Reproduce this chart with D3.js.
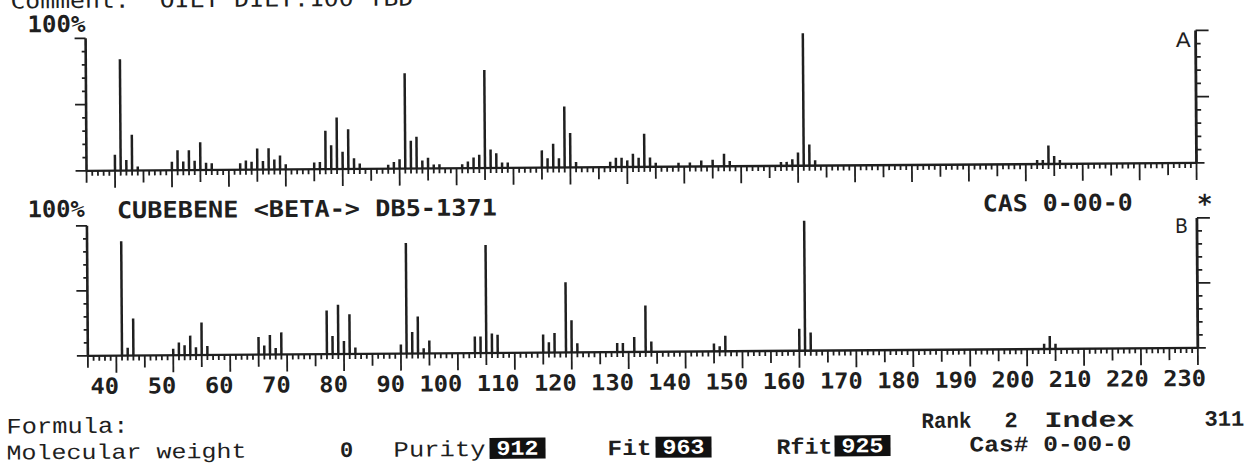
<!DOCTYPE html>
<html><head><meta charset="utf-8">
<script src="https://cdn.jsdelivr.net/npm/d3@7/dist/d3.min.js"></script>
<style>html,body{margin:0;padding:0;background:#fff}svg{display:block}</style>
</head><body>
<svg id="c" width="1255" height="466"></svg>
<script>
// ---- data (m/z and relative intensity %) ----
const mzA  = [40,41,42,43,44,50,51,52,53,54,55,56,57,62,63,64,65,66,67,68,69,70,75,76,77,78,79,80,81,82,83,88,89,90,91,92,93,94,95,96,97,101,102,103,104,105,106,107,108,109,115,116,117,118,119,120,121,127,128,129,130,131,132,133,134,135,139,141,143,145,147,148,157,158,159,160,161,162,163,202,203,204,205,206];
const intA = [12,84,8,27,3,6.5,15,6.5,15,7,21,5.5,5,5,7,6,16,6.5,16,7.5,10.5,4,5,5.5,29,18,39,13,30,8,4,3,5,7,72,21,24,6,8,3,3,3,5,8,10,74,14,11,4,4,13,7,18,7,46,26,4,4,7,7,5,10,7,25,7,3,3,3,4.5,5,9.5,4,3,3,5,10,100,16,4,3,3,14,6,3];
const mzB  = [41,42,43,50,51,52,53,54,55,56,65,66,67,68,69,77,78,79,80,81,82,90,91,92,93,94,95,103,104,105,106,107,115,116,117,119,120,121,128,129,131,133,134,145,146,147,160,161,162,203,204,205];
const intB = [88,6,28.5,5,9.7,7.6,15,6,25,7,13.5,7,15,5,17,33.6,14,38,10,30.5,5,7,85,16.5,28.5,4,10,12.7,12.7,83,15,14,14,8,15,54,24.7,7,7,7,11.5,35.6,8,6,4,12,17,100,14,4,10,4];
const xTickLabels = ["40","50","60","70","80","90","100","110","120","130","140","150","160","170","180","190","200","210","220","230"];
const yPercentTicks = [0,10,20,30,40,50,60,70,80,90,100];
const scoreNames = ["Purity","Fit","Rfit"];
const scoreValues = [912,963,925];

// ---- drawing ----
const W = 1255, H = 466, INK = "#1f1f1f";
const svg = d3.select("#c");
svg.append("rect").attr("width", W).attr("height", H).attr("fill", "#fff");
const root = svg.append("g").attr("transform", "rotate(-0.41 627 233)");

const x = d3.scaleLinear().domain([35, 230]).range([87, 1197]);
const labelX = d3.scaleLinear().domain([40, 230]).range([118, 1205]);
const panels = [
  {mz: mzA, val: intA, y: d3.scaleLinear().domain([0, 100]).range([167, 34.5])},
  {mz: mzB, val: intB, y: d3.scaleLinear().domain([0, 100]).range([352, 222])}
];
const mzAll = d3.range(35, 231);

panels.forEach(p => {
  const g = root.append("g");
  const y0 = p.y(0), y100 = p.y(100);
  g.append("line").attr("x1", x(35)).attr("x2", x(230)).attr("y1", y0).attr("y2", y0)
    .attr("stroke", INK).attr("stroke-width", 2.4);
  g.selectAll("line.t").data(mzAll).join("line").attr("class", "t")
    .attr("x1", d => x(d)).attr("x2", d => x(d)).attr("y1", y0)
    .attr("y2", d => y0 + (d % 10 === 0 ? 17 : d % 5 === 0 ? 12 : 5))
    .attr("stroke", INK).attr("stroke-width", 1.8);
  g.append("line").attr("x1", x(35)).attr("x2", x(35)).attr("y1", y0).attr("y2", y100)
    .attr("stroke", INK).attr("stroke-width", 2.6);
  g.selectAll("line.l").data(yPercentTicks).join("line").attr("class", "l")
    .attr("x1", x(35)).attr("x2", d => x(35) - (d % 50 === 0 ? 11 : 4))
    .attr("y1", d => p.y(d)).attr("y2", d => p.y(d))
    .attr("stroke", INK).attr("stroke-width", 1.8);
  g.append("line").attr("x1", x(230)).attr("x2", x(230)).attr("y1", y0).attr("y2", y100)
    .attr("stroke", INK).attr("stroke-width", 2.8);
  g.selectAll("line.r").data(yPercentTicks).join("line").attr("class", "r")
    .attr("x1", x(230)).attr("x2", d => x(230) + (d === 0 ? 8 : d % 50 === 0 ? 13 : 5))
    .attr("y1", d => p.y(d)).attr("y2", d => p.y(d))
    .attr("stroke", INK).attr("stroke-width", 1.8);
  g.selectAll("line.pk").data(p.mz.map((m, i) => [m, p.val[i]])).join("line").attr("class", "pk")
    .attr("x1", d => x(d[0])).attr("x2", d => x(d[0]))
    .attr("y1", y0).attr("y2", d => p.y(d[1]))
    .attr("stroke", INK).attr("stroke-width", 2.5);
});

function txt(s, xp, yp, o = {}) {
  const t = root.append("text").attr("x", xp).attr("y", yp).text(s)
    .attr("font-family", o.f || "'DejaVu Sans Mono', monospace")
    .attr("font-size", o.s || 23).attr("font-weight", o.w || "bold")
    .attr("fill", o.c || INK).attr("text-anchor", o.a || "start")
    .style("white-space", "pre");
  if (o.len) t.attr("textLength", o.len).attr("lengthAdjust", "spacingAndGlyphs");
  return t;
}
const MONO2 = "'Liberation Mono', monospace";

txt("Comment:  OILY DILY:100 TBD", 12, 4, {len: 403, w: "normal", s: 22});
txt("100%", 29, 28, {len: 58});
txt("A", 1177, 51, {s: 20, len: 15, f: "'DejaVu Sans', sans-serif", w: "normal"});
txt("100%", 28, 213, {len: 57});
txt("CUBEBENE <BETA-> DB5-1371", 117, 214.5, {len: 380});
txt("CAS 0-00-0", 983, 214, {len: 150});
txt("*", 1205, 217, {s: 26, a: "middle"});
txt("B", 1175, 237, {s: 20, len: 13, f: "'DejaVu Sans', sans-serif", w: "normal"});

// x tick labels
root.selectAll("text.xl").data(xTickLabels).join("text").attr("class", "xl")
  .attr("x", d => labelX(+d)).attr("y", 390).attr("text-anchor", "end")
  .attr("font-family", "'DejaVu Sans Mono', monospace").attr("font-size", 22).attr("font-weight", "bold")
  .attr("fill", INK).attr("textLength", d => d.length * 14.3).attr("lengthAdjust", "spacingAndGlyphs")
  .text(d => d);

// footer
txt("Formula:", 5, 429, {f: MONO2, s: 22, w: "normal", len: 122});
txt("Rank", 920, 430, {f: MONO2, s: 22, len: 50});
txt("2", 1003, 430, {f: MONO2, s: 22});
txt("Index", 1043, 430, {f: MONO2, s: 22, len: 90});
txt("311", 1203, 430, {f: MONO2, s: 22, len: 40});
txt("Molecular weight", 5, 455, {f: MONO2, s: 21, w: "normal", len: 240});
txt("0", 345, 455, {f: MONO2, s: 22, a: "middle"});
const scorePos = [[392, 92, 488], [606, 44, 654], [775, 56, 833]];
scoreNames.forEach((n, i) => {
  const [lx, ll, bx] = scorePos[i];
  txt(n, lx, 455, {f: MONO2, s: 22, len: ll, w: i === 0 ? "normal" : "bold"});
  root.append("rect").attr("x", bx).attr("y", 437).attr("width", 56).attr("height", 21).attr("fill", "#111");
  txt(String(scoreValues[i]), bx + 28, 454, {f: MONO2, s: 21, a: "middle", c: "#fff", len: 42});
});
txt("Cas# 0-00-0", 968, 454, {f: MONO2, s: 22, len: 162});
</script>
</body></html>
